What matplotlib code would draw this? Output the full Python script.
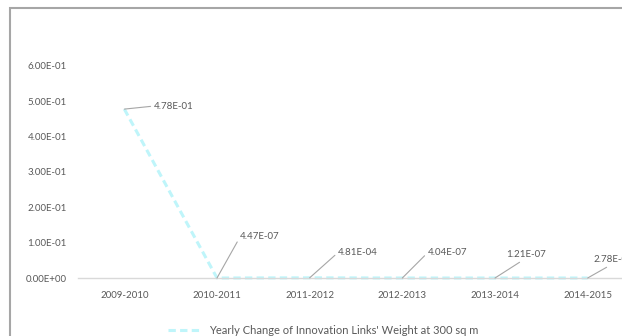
import matplotlib.pyplot as plt
import matplotlib.patches as patches

years = ["2009-2010", "2010-2011", "2011-2012", "2012-2013", "2013-2014", "2014-2015"]
weight_change = [4.78e-01, 4.47e-07, 4.81e-04, 4.04e-07, 1.21e-07, 2.78e-07]
point_labels = ["4.78E-01", "4.47E-07", "4.81E-04", "4.04E-07", "1.21E-07", "2.78E-07"]
y_ticks = [0.0, 0.1, 0.2, 0.3, 0.4, 0.5, 0.6]
y_tick_labels = ["0.00E+00", "1.00E-01", "2.00E-01", "3.00E-01", "4.00E-01", "5.00E-01", "6.00E-01"]

plt.rcParams['font.family'] = ['Lato', 'DejaVu Sans']
text_col = "#595959"
line_col = "#bff5fa"

W, H = 622, 336
fig = plt.figure(figsize=(W / 100, H / 100), dpi=100)
ax = fig.add_axes([78 / W, 1 - 278 / H, 556 / W, 212 / H])

x = list(range(len(years)))
ax.plot(x, weight_change, color=line_col, lw=2.2, ls=(0, (2.4, 1.4)),
        label="Yearly Change of Innovation Links' Weight at 300 sq m", clip_on=False)

# label offsets in pixels and where the leader meets the label
offsets = [(29, 3), (23, 41), (28, 25), (25, 25), (11, 23), (6, 18)]
relpos = [(0, 0.5), (0, 0.5), (0, 0.5), (0, 0.5), (0.45, 0), (0.45, 0)]
for i, lab in enumerate(point_labels):
    ax.annotate(lab, (x[i], weight_change[i]), xytext=offsets[i], textcoords="offset pixels",
                ha="left", va="center", fontsize=7, color=text_col, annotation_clip=False,
                arrowprops=dict(arrowstyle="-", color="#a6a6a6", lw=0.8,
                                shrinkA=0, shrinkB=0, relpos=relpos[i]))

ax.set_xlim(-0.5, len(years) - 0.5)
ax.set_ylim(0, 0.6)
ax.set_xticks(x)
ax.set_xticklabels(years)
ax.set_yticks(y_ticks)
ax.set_yticklabels(y_tick_labels)
ax.tick_params(length=0, labelsize=7, colors=text_col)
ax.tick_params(axis="x", pad=9)
ax.tick_params(axis="y", pad=8)
for s in ["top", "right", "left"]:
    ax.spines[s].set_visible(False)
ax.spines["bottom"].set_color("#d9d9d9")
ax.spines["bottom"].set_linewidth(1)

leg = ax.legend(loc="center", bbox_to_anchor=(323 / W, 1 - 330 / H), bbox_transform=fig.transFigure,
                frameon=False, fontsize=8, handlelength=3.0, handletextpad=0.7)
for t in leg.get_texts():
    t.set_color(text_col)

fig.patches.append(patches.Rectangle((9.5 / W, -0.1), 1.2, 1 - 7.5 / H + 0.1, transform=fig.transFigure,
                                     fill=False, edgecolor="#a6a6a6", lw=1.5))

fig.savefig("out.png", dpi=100)
